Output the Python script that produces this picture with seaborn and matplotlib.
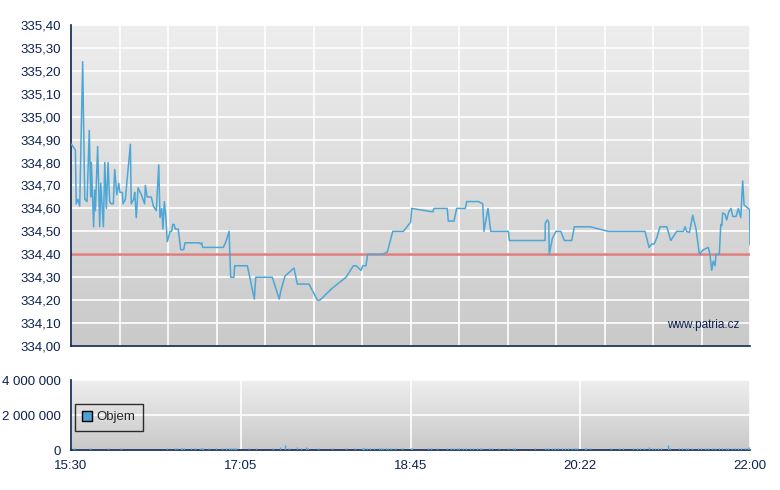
import numpy as np
import pandas as pd
import matplotlib
matplotlib.use("Agg")
import matplotlib.pyplot as plt
from matplotlib.colors import LinearSegmentedColormap
from matplotlib.patches import Patch
from matplotlib.ticker import FuncFormatter
import seaborn as sns

# ---------------- data ----------------
# minutes since 15:30
price_t = [0.2, 2.5, 3.0, 4.0, 5.0, 6.7, 7.9, 9.2, 10.5, 11.3, 11.7, 13.0, 13.6, 14.0, 15.3,
           16.5, 17.1, 18.6, 19.4, 20.3, 21.3, 22.2, 23.1, 24.3, 25.1, 26.3, 27.4, 28.1, 29.5,
           29.9, 31.2, 34.1, 34.6, 36.0, 36.6, 37.5, 38.5, 40.4, 42.3, 42.7, 43.7, 46.1, 47.3,
           49.0, 50.4, 51.1, 52.1, 52.8, 53.6, 54.4, 55.3, 56.9, 57.8, 58.4, 59.2, 59.9, 61.6,
           63.0, 64.7, 65.5, 73.7, 74.5, 75.1, 75.6, 77.9, 87.5, 89.0, 90.8, 91.7, 93.6, 94.0,
           101.3, 105.3, 106.1, 115.6, 119.6, 120.5, 122.9, 128.1, 130.0, 136.7, 141.5, 143.0,
           149.7, 158.0, 162.2, 163.7, 166.6, 167.6, 169.4, 170.4, 179.0, 181.7, 184.8, 190.9,
           195.1, 195.7, 207.8, 208.5, 216.1, 216.7, 220.0, 221.5, 226.5, 227.3, 234.0, 236.5,
           237.2, 239.5, 241.1, 251.2, 251.8, 272.3, 272.4, 273.6, 274.4, 274.7, 276.5, 278.6,
           281.3, 283.4, 287.6, 289.1, 298.1, 308.6, 329.7, 332.0, 333.6, 334.9, 336.4, 338.3,
           342.2, 344.5, 347.9, 351.7, 352.7, 353.6, 355.2, 357.1, 359.0, 360.9, 363.2, 366.1,
           367.0, 368.0, 368.9, 369.9, 370.5, 372.4, 373.2, 373.8, 374.3, 375.7, 376.6, 377.8,
           379.1, 380.1, 382.0, 383.3, 384.7, 385.8, 386.6, 389.0, 389.8, 390.0]
price_v = [334.88, 334.855, 334.62, 334.64, 334.61, 335.24, 334.64, 334.63, 334.94, 334.65, 334.80,
           334.52, 334.68, 334.59, 334.87, 334.52, 334.71, 334.52, 334.80, 334.60, 334.80, 334.63,
           334.62, 334.62, 334.77, 334.66, 334.71, 334.67, 334.67, 334.62, 334.64, 334.88, 334.62,
           334.64, 334.67, 334.56, 334.69, 334.66, 334.62, 334.70, 334.65, 334.65, 334.61, 334.59,
           334.79, 334.56, 334.60, 334.51, 334.63, 334.57, 334.455, 334.50, 334.50, 334.53, 334.53,
           334.51, 334.51, 334.42, 334.42, 334.45, 334.45, 334.445, 334.45, 334.43, 334.43, 334.43,
           334.455, 334.50, 334.30, 334.30, 334.35, 334.35, 334.205, 334.30, 334.30, 334.205,
           334.24, 334.305, 334.34, 334.27, 334.27, 334.20, 334.20, 334.25, 334.30, 334.35, 334.35,
           334.33, 334.35, 334.35, 334.40, 334.40, 334.41, 334.50, 334.50, 334.54, 334.60, 334.585,
           334.60, 334.60, 334.545, 334.545, 334.60, 334.60, 334.63, 334.63, 334.62, 334.50, 334.60,
           334.50, 334.50, 334.46, 334.46, 334.535, 334.55, 334.54, 334.40, 334.47, 334.50, 334.50,
           334.46, 334.46, 334.52, 334.52, 334.50, 334.50, 334.43, 334.445, 334.445, 334.47, 334.52,
           334.52, 334.46, 334.50, 334.50, 334.52, 334.50, 334.495, 334.57, 334.51, 334.40, 334.42,
           334.43, 334.40, 334.33, 334.37, 334.35, 334.40, 334.40, 334.53, 334.525, 334.58, 334.575,
           334.55, 334.585, 334.60, 334.565, 334.565, 334.60, 334.56, 334.72, 334.615, 334.60,
           334.595, 334.44]
ref_price = 334.40

vol_t = [2, 11, 21, 29, 55, 60, 61, 63, 64, 65, 69, 71, 74, 75, 76, 79, 83, 87, 89, 91, 92, 93,
         94, 95, 102, 106, 116, 120, 123, 125, 130, 132, 135, 136, 142, 150, 158, 163, 167, 168,
         168.5, 170, 172, 174, 177, 178, 179, 181, 182, 184, 186, 190, 195, 195.7, 205, 207, 210,
         216, 218, 220, 221.5, 223, 225, 227, 229, 231, 233, 235, 236, 240, 242, 246, 251, 254,
         255, 266.5, 272, 274, 276, 278, 280, 282, 284, 285.6, 287.6, 289.5, 290.5, 295, 296, 298,
         310, 315, 317, 323, 325, 327, 329, 332, 333.5, 335.5, 337, 339, 343, 344, 349, 351, 353,
         354.6, 356.5, 360, 362, 364, 366, 368, 370, 372, 374, 376, 377.5, 379.5, 381.4, 383, 385,
         387, 389, 389.6]
vol_v = [90000, 100000, 90000, 90000, 90000, 110000, 100000, 110000, 100000, 90000, 100000, 90000,
         110000, 100000, 90000, 100000, 90000, 90000, 100000, 110000, 110000, 100000, 100000, 90000,
         90000, 90000, 110000, 170000, 290000, 110000, 160000, 100000, 170000, 130000, 100000, 90000,
         100000, 90000, 120000, 110000, 100000, 90000, 100000, 110000, 100000, 90000, 100000, 110000,
         100000, 90000, 100000, 90000, 90000, 110000, 90000, 90000, 100000, 90000, 100000, 90000,
         100000, 90000, 100000, 90000, 100000, 90000, 100000, 90000, 100000, 90000, 90000, 90000,
         90000, 110000, 110000, 90000, 90000, 90000, 90000, 90000, 90000, 90000, 90000, 90000, 90000,
         90000, 90000, 110000, 110000, 90000, 90000, 90000, 90000, 90000, 90000, 100000, 90000,
         170000, 100000, 100000, 100000, 90000, 290000, 110000, 100000, 90000, 100000, 90000, 90000,
         90000, 100000, 90000, 90000, 90000, 90000, 90000, 90000, 90000, 90000, 90000,
         90000, 90000, 90000, 90000, 130000, 170000]

x_labels = ["15:30", "17:05", "18:45", "20:22", "22:00"]
price_ticks = [334.00, 334.10, 334.20, 334.30, 334.40, 334.50, 334.60, 334.70, 334.80, 334.90,
               335.00, 335.10, 335.20, 335.30, 335.40]
vol_ticks = [0, 2000000, 4000000]

# ---------------- style ----------------
sns.set_style("white")
plt.rcParams["font.family"] = ["Liberation Sans", "DejaVu Sans"]
NAVY = "#0c2152"
LINE = "#4ca6d6"
TOTAL = 390.0
FS = 9.5

fig = plt.figure(figsize=(7.8, 4.9), dpi=100)
ax = fig.add_axes([71/780, 1 - 346/490, 679/780, 321/490])
axv = fig.add_axes([71/780, 1 - 450/490, 679/780, 70/490])

grad = LinearSegmentedColormap.from_list("g", ["#eeeeee", "#c9c9c9"])
for a in (ax, axv):
    a.imshow(np.linspace(0, 1, 256).reshape(-1, 1), extent=[0, 1, 0, 1],
             transform=a.transAxes, aspect="auto", cmap=grad, zorder=0)
    a.set_axisbelow(True)
    for s in ("top", "right"):
        a.spines[s].set_visible(False)
    for s in ("left", "bottom"):
        a.spines[s].set_color(NAVY)
        a.spines[s].set_linewidth(1.2)
    a.tick_params(colors=NAVY, labelcolor=NAVY, labelsize=FS, length=5, width=1,
                  direction="out", pad=2.5)

# price panel
df = pd.DataFrame({"t": price_t, "v": price_v})
ax.axhline(ref_price, color="#e07c7c", lw=1.8, zorder=2)
sns.lineplot(data=df, x="t", y="v", ax=ax, color=LINE, lw=1.1, estimator=None, sort=False, zorder=3)
ax.set_xlim(0, TOTAL)
ax.set_ylim(334.00, 335.40)
ax.set_yticks(price_ticks)
ax.yaxis.set_major_formatter(FuncFormatter(lambda v, p: f"{v:.2f}".replace(".", ",")))
ax.set_xticks(np.linspace(0, TOTAL, 15))
ax.set_xticklabels([])
ax.grid(True, color="white", lw=1.2)
ax.set_xlabel("")
ax.set_ylabel("")
ax.text(0.985, 0.065, "www.patria.cz", transform=ax.transAxes, ha="right", va="center",
        color=NAVY, fontsize=8.5)

# volume panel
axv.vlines(vol_t, 0, vol_v, color=LINE, lw=1.0, zorder=3)
axv.set_xlim(0, TOTAL)
axv.set_ylim(0, 4000000)
axv.set_yticks(vol_ticks)
axv.yaxis.set_major_formatter(FuncFormatter(lambda v, p: f"{int(v):,}".replace(",", " ")))
axv.set_xticks(np.linspace(0, TOTAL, 5))
axv.set_xticklabels(x_labels)
axv.grid(True, color="white", lw=1.2)
leg = axv.legend(handles=[Patch(facecolor="#4aa3d6", edgecolor="black", lw=1, label="Objem")],
                 loc="upper left", bbox_to_anchor=(0.006, 0.66), borderaxespad=0,
                 frameon=True, fancybox=False,
                 handlelength=0.75, handleheight=0.75, handletextpad=0.35, borderpad=0.55,
                 fontsize=FS)
leg.get_frame().set_edgecolor("black")
leg.get_frame().set_facecolor("none")
leg.get_frame().set_linewidth(1.0)

fig.savefig("out.png", dpi=100, facecolor="white")
